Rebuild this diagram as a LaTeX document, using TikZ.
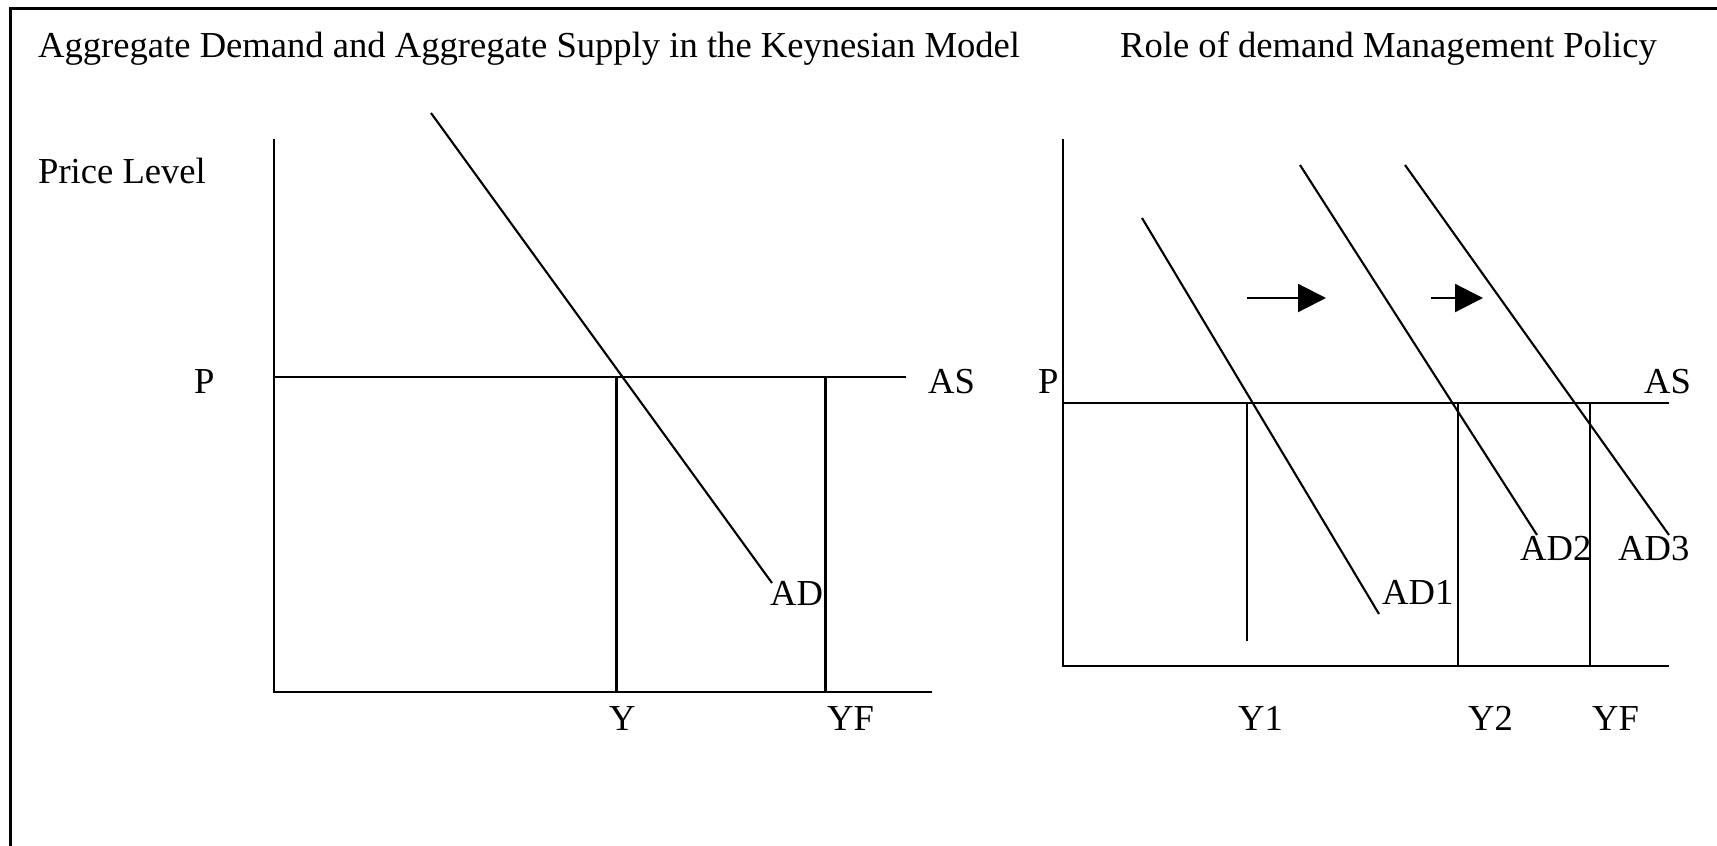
\documentclass[tikz,border=0pt]{standalone}
\usepackage{fontspec}
\setmainfont{Liberation Serif}
\usetikzlibrary{arrows.meta}
\tikzset{
  lbl/.style={anchor=base west, inner sep=0pt, font=\fontsize{36.6}{44}\selectfont},
  axis/.style={line width=2.8pt},
  thin/.style={line width=2.1pt},
  shiftarrow/.style={line width=2.2pt, -{Triangle[length=28pt,width=28pt]}},
}
\begin{document}
\begin{tikzpicture}[x=1pt,y=-1pt]
\useasboundingbox (0,0) rectangle (1717,846);
% frame
\draw[line width=3pt] (10.5,846) -- (10.5,8.5) -- (1717,8.5);
% titles
\node[lbl] (t1) at (38,57) {Aggregate Demand and Aggregate Supply in the Keynesian Model};
\node[lbl] (t2) at (1120,57) {Role of demand Management Policy};
% ---- left panel
\coordinate (lO) at (274,692);
\coordinate (lT) at (274,139);
\coordinate (lX) at (932,692);
\coordinate (lP) at (274,377);
\coordinate (lAS) at (906,377);
\draw[axis] (lT) -- (lO) -- (lX);
\draw[axis] (lP) -- (lAS);
\draw[thin] (616.5,377) -- (616.5,692);
\draw[thin] (825.5,377) -- (825.5,692);
\coordinate (adtop) at (431,113);
\coordinate (adend) at (772,583);
\draw[thin] (adtop) -- (adend);
\node[lbl] (pl) at (38,183) {Price Level};
\node[lbl] (p1) at (194,393) {P};
\node[lbl] (as1) at (928,393) {AS};
\node[lbl] (ad) at (770,605) {AD};
\node[lbl] (y) at (609,730) {Y};
\node[lbl] (yf1) at (827,730) {YF};
% ---- right panel
\coordinate (rO) at (1063,666);
\coordinate (rT) at (1063,139);
\coordinate (rX) at (1669,666);
\coordinate (rP) at (1063,403);
\coordinate (rAS) at (1669,403);
\draw[axis] (rT) -- (rO) -- (rX);
\draw[axis] (rP) -- (rAS);
\draw[thin] (1247,403) -- (1247,641);
\draw[thin] (1458,403) -- (1458,666);
\draw[thin] (1590,403) -- (1590,666);
\draw[thin] (1142,218) -- (1379,614);
\draw[thin] (1300,165) -- (1537,535);
\draw[thin] (1405,165) -- (1669,535);
\draw[shiftarrow] (1247,298) -- (1326,298);
\draw[shiftarrow] (1431,298) -- (1483,298);
\node[lbl] (p2) at (1038,393) {P};
\node[lbl] (as2) at (1644,393) {AS};
\node[lbl] (ad1) at (1382,604) {AD1};
\node[lbl] (ad2) at (1520,560) {AD2};
\node[lbl] (ad3) at (1618,560) {AD3};
\node[lbl] (y1) at (1238,730) {Y1};
\node[lbl] (y2) at (1468,730) {Y2};
\node[lbl] (yf2) at (1592,730) {YF};
\end{tikzpicture}
\end{document}
